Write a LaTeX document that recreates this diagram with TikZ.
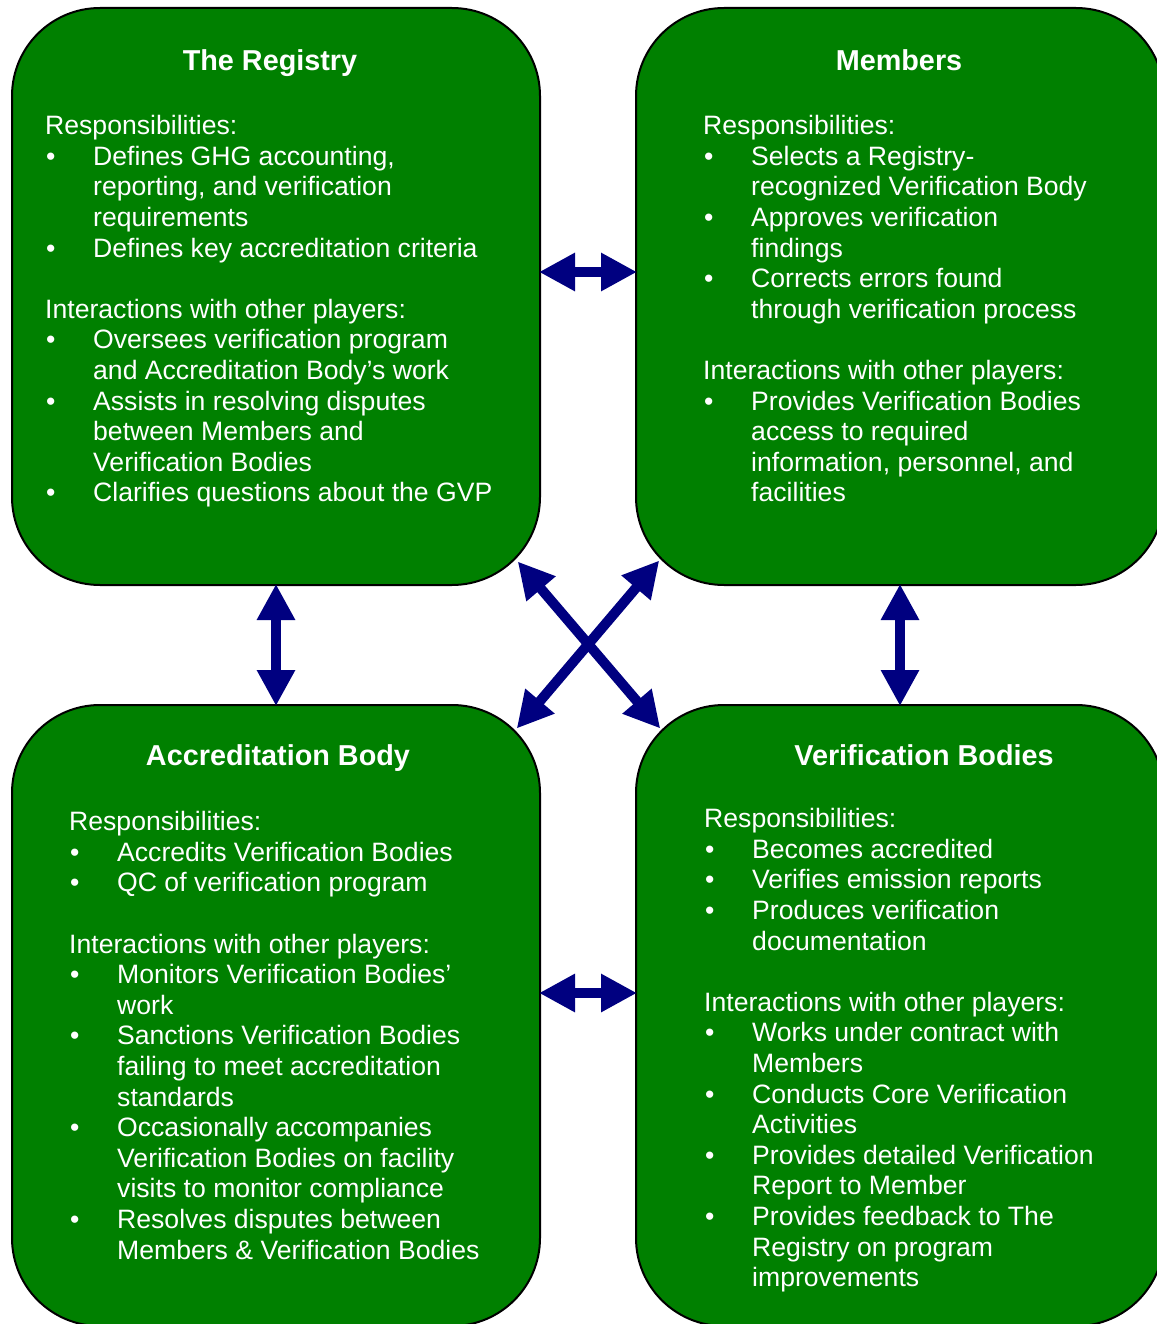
\documentclass[tikz,border=0pt]{standalone}
\usepackage{fontspec}
\setmainfont{Liberation Sans}
\usetikzlibrary{arrows.meta}
\definecolor{boxgreen}{HTML}{008000}
\definecolor{arrowblue}{HTML}{000080}
\newcommand{\bullitem}{\makebox[48pt][l]{\hspace{1pt}•}}
\newcommand{\bullcont}{\hspace*{48pt}}

\begin{document}
\begin{tikzpicture}
  [x=1pt,y=-1pt,
   box/.style={draw=black,line width=2pt,fill=boxgreen,rounded corners=88pt,minimum width=528pt},
   title/.style={text=white,font=\fontsize{28.8}{33}\selectfont\bfseries,anchor=base,inner sep=0pt},
   body/.style={text=white,font=\fontsize{26.6}{30.6}\selectfont,align=left,anchor=north west,inner sep=0pt},
   dbl/.style={{Triangle[length=36pt,width=36pt]}-{Triangle[length=36pt,width=36pt]},line width=10pt,draw=arrowblue,
     shorten <=-2pt,shorten >=-2pt}]
  \useasboundingbox (0,0) rectangle (1156,1324);

  % the four players
  \node[box,minimum height=577pt] (reg) at (276,296.5) {};
  \node[box,minimum height=577pt] (mem) at (900,296.5) {};
  \node[box,minimum height=621pt] (acc) at (276,1015.5) {};
  \node[box,minimum height=621pt] (ver) at (900,1015.5) {};

  \node[title] (regtitle) at (270,70.3) {The Registry};
  \node[title] (memtitle) at (899,70.3) {Members};
  \node[title] (acctitle) at (278,765.3) {Accreditation Body};
  \node[title] (vertitle) at (924,765.3) {Verification Bodies};

  \node[body] (regtxt) at (45,115.2) {Responsibilities:\\
    \bullitem Defines GHG accounting,\\
    \bullcont reporting, and verification\\
    \bullcont requirements\\
    \bullitem Defines key accreditation criteria\\[30.6pt]
    Interactions with other players:\\
    \bullitem Oversees verification program\\
    \bullcont and Accreditation Body’s work\\
    \bullitem Assists in resolving disputes\\
    \bullcont between Members and\\
    \bullcont Verification Bodies\\
    \bullitem Clarifies questions about the GVP};

  \node[body] (memtxt) at (703,115.2) {Responsibilities:\\
    \bullitem Selects a Registry-\\
    \bullcont recognized Verification Body\\
    \bullitem Approves verification\\
    \bullcont findings\\
    \bullitem Corrects errors found\\
    \bullcont through verification process\\[30.6pt]
    Interactions with other players:\\
    \bullitem Provides Verification Bodies\\
    \bullcont access to required\\
    \bullcont information, personnel, and\\
    \bullcont facilities};

  \node[body] (acctxt) at (69,811.2) {Responsibilities:\\
    \bullitem Accredits Verification Bodies\\
    \bullitem QC of verification program\\[30.6pt]
    Interactions with other players:\\
    \bullitem Monitors Verification Bodies’\\
    \bullcont work\\
    \bullitem Sanctions Verification Bodies\\
    \bullcont failing to meet accreditation\\
    \bullcont standards\\
    \bullitem Occasionally accompanies\\
    \bullcont Verification Bodies on facility\\
    \bullcont visits to monitor compliance\\
    \bullitem Resolves disputes between\\
    \bullcont Members \& Verification Bodies};

  \node[body] (vertxt) at (704,808.2) {Responsibilities:\\
    \bullitem Becomes accredited\\
    \bullitem Verifies emission reports\\
    \bullitem Produces verification\\
    \bullcont documentation\\[30.6pt]
    Interactions with other players:\\
    \bullitem Works under contract with\\
    \bullcont Members\\
    \bullitem Conducts Core Verification\\
    \bullcont Activities\\
    \bullitem Provides detailed Verification\\
    \bullcont Report to Member\\
    \bullitem Provides feedback to The\\
    \bullcont Registry on program\\
    \bullcont improvements};

  % arrows between the players
  \draw[dbl] ([yshift=24.5pt]reg.east) -- ([yshift=24.5pt]mem.west);
  \draw[dbl] ([yshift=22.5pt]acc.east) -- ([yshift=22.5pt]ver.west);
  \foreach \from/\to in {reg/acc,mem/ver}
    \draw[dbl] (\from.south) -- (\to.north);
  \draw[dbl] ([shift={(-22pt,23pt)}]reg.south east) -- ([shift={(24pt,-23pt)}]ver.north west);
  \draw[dbl] ([shift={(23pt,24pt)}]mem.south west) -- ([shift={(-23pt,-23pt)}]acc.north east);

\end{tikzpicture}
\end{document}
